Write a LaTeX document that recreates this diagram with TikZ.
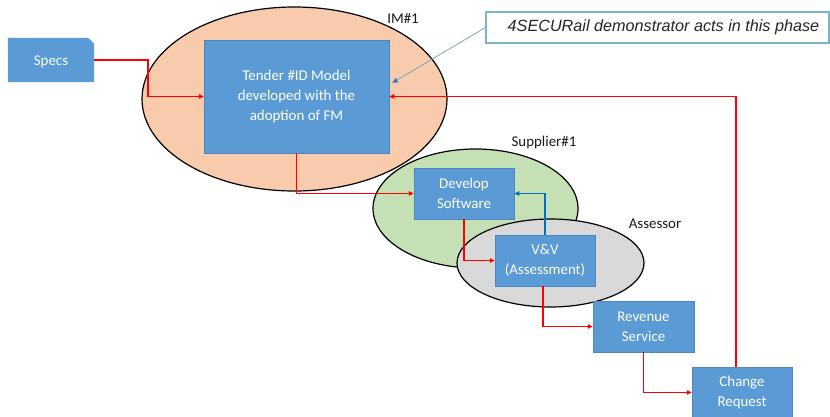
\documentclass[tikz,border=0pt]{standalone}
\usepackage{fontspec}
\setmainfont{Carlito}
\newfontfamily\arialfont{Liberation Sans}
\usetikzlibrary{shapes.geometric,arrows.meta}
\definecolor{boxblue}{HTML}{5B9BD5}
\definecolor{boxedge}{HTML}{4F86BD}
\definecolor{peach}{HTML}{F8CBAD}
\definecolor{lgreen}{HTML}{C5E0B4}
\definecolor{lgrey}{HTML}{D9D9D9}
\definecolor{flowred}{HTML}{FF0000}
\definecolor{fbblue}{HTML}{0070C0}
\definecolor{calledge}{HTML}{7AB6C6}
\definecolor{callline}{HTML}{6C9EC2}
\definecolor{calltipc}{HTML}{2E6E9E}
\begin{document}
\begin{tikzpicture}[x=1pt,y=-1pt,
  procbox/.style={rectangle, fill=boxblue, draw=boxedge, line width=0.5pt, text=white,
    align=center, inner sep=0pt, font=\fontsize{14.9}{20}\selectfont},
  region/.style={ellipse, draw=black, line width=1.2pt, inner sep=0pt},
  lbl/.style={inner sep=0pt, font=\fontsize{14.9}{18}\selectfont, text=black!90},
  flow/.style={draw=flowred, line width=1.3pt, -{Triangle[length=5pt,width=4.5pt]}},
  fback/.style={draw=fbblue, line width=1.3pt, -{Triangle[length=5pt,width=4.5pt]}}]
\useasboundingbox (0,0) rectangle (830,417);
\fill[white] (0,0) rectangle (830,417);
% regions
\node[region, fill=peach, minimum width=305pt, minimum height=184pt] (im) at (294.5,99) {};
\node[region, fill=lgreen, minimum width=205pt, minimum height=119pt] (sup) at (475.5,208.5) {};
\node[region, fill=lgrey, minimum width=187pt, minimum height=88pt] (ass) at (550.5,263) {};
% labels
\node[lbl] (imlbl) at (403,18) {IM\#1};
\node[lbl] (suplbl) at (544,143) {Supplier\#1};
\node[lbl] (asslbl) at (655,224) {Assessor};
% specs (snipped corner)
\node[inner sep=0pt, minimum width=86pt, minimum height=44pt] (specs) at (51,60) {};
\fill[boxblue] (specs.south west) -- (specs.north west) -- ([xshift=-6pt]specs.north east)
  -- ([yshift=-6pt]specs.north east) -- (specs.south east) -- cycle;
\node[text=white, inner sep=0pt, font=\fontsize{14.9}{20}\selectfont] (specstxt) at ([yshift=-1.5pt]specs.center) {Specs};
% boxes
\node[procbox, minimum width=185pt, minimum height=113pt] (tender) at (296.5,96.5)
  {Tender \#ID Model\\developed with the\\adoption of FM};
\node[procbox, minimum width=100pt, minimum height=51pt] (develop) at (464,193.5) {Develop\\Software};
\node[procbox, minimum width=100pt, minimum height=51pt] (vv) at (545,260.5) {V\&V\\(Assessment)};
\node[procbox, minimum width=101pt, minimum height=51pt] (rev) at (643.5,326.5) {Revenue\\Service};
\node[procbox, minimum width=100pt, minimum height=51pt] (change) at (742,392.5) {Change\\Request};
% callout
\node[rectangle, draw=calledge, fill=white, line width=1.2pt, minimum width=343pt, minimum height=31pt,
  inner sep=0pt, text=black!85] (callout) at (657.5,27.5) {};
\node[inner sep=0pt, font=\arialfont\itshape\fontsize{16.2}{18}\selectfont, text=black!85] (calltext)
  at ([xshift=6pt]callout.center) {4SECURail demonstrator acts in this phase};
\coordinate (calltip) at (392,83);
\draw[draw=callline, line width=0.7pt, -{Triangle[length=6pt,width=6pt,fill=calltipc]}] (callout.west) -- (calltip);
% flows
\draw[flow] (specs.east) -- (148,60) |- (tender.west);
\draw[flow] (tender.south) |- (develop.west);
\draw[flow] (develop.south) |- (vv.west);
\draw[fback] (vv.north) |- (develop.east);
\draw[flow] ([xshift=-2pt]vv.south) |- (rev.west);
\draw[flow] (rev.south) |- (change.west);
\draw[flow] ([xshift=-6pt]change.north) |- (tender.east);
\end{tikzpicture}
\end{document}
